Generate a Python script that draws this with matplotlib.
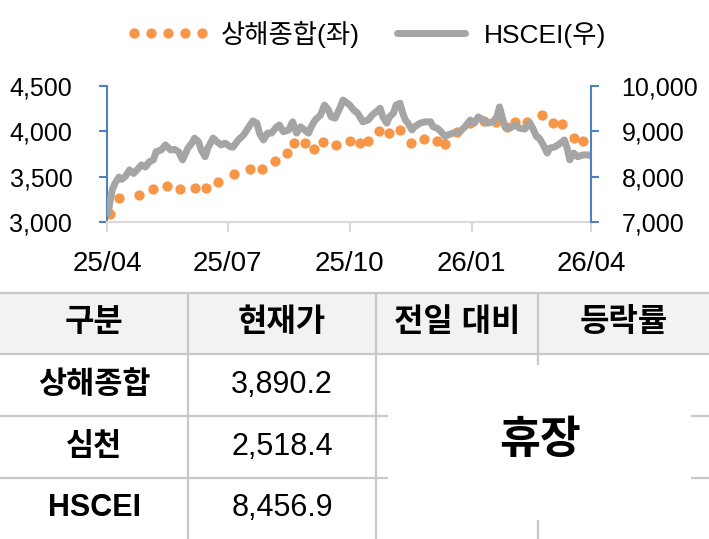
import numpy as np
import pandas as pd
import matplotlib
matplotlib.use('Agg')
import matplotlib.pyplot as plt
from matplotlib.patches import Rectangle
from matplotlib.ticker import FuncFormatter

plt.rcParams['font.family'] = ['Liberation Sans', 'Noto Sans CJK KR']

start = pd.Timestamp('2025-04-01')

# 상해종합 (left axis), days since 2025-04-01
sh_days = [2, 9, 24, 35, 45, 55, 66, 75, 84, 96, 108, 117, 127, 136, 141, 149, 156,
           163, 173, 183, 191, 197, 205, 213, 221, 229, 239, 249, 255, 264, 274,
           284, 293, 302, 308, 317, 328, 336, 343, 352, 359]
sh_vals = [3090, 3270, 3300, 3360, 3400, 3360, 3380, 3380, 3445, 3525, 3580, 3580,
           3675, 3765, 3870, 3870, 3800, 3885, 3850, 3895, 3875, 3890, 4005, 3980,
           4020, 3875, 3915, 3895, 3860, 3995, 4090, 4110, 4100, 4045, 4105, 4105,
           4180, 4095, 4080, 3925, 3890]

# HSCEI (right axis)
hs_days = [1, 2, 4, 6, 9, 11, 14, 17, 20, 23, 26, 29, 32, 35, 37, 41, 44, 48, 51, 54,
           57, 61, 64, 66, 69, 71, 74, 76, 80, 83, 86, 89, 93, 95, 99, 103, 107, 110,
           113, 115, 118, 121, 124, 128, 130, 133, 137, 140, 143, 146, 149, 152, 154,
           157, 161, 164, 167, 169, 172, 176, 178, 183, 186, 189, 193, 197, 200, 203,
           206, 208, 211, 213, 216, 218, 221, 223, 225, 227, 230, 232, 236, 240, 244,
           246, 249, 252, 255, 257, 261, 266, 270, 274, 277, 280, 284, 287, 291, 294,
           296, 298, 300, 304, 308, 311, 315, 319, 321, 324, 326, 329, 332, 334, 338,
           342, 345, 347, 349, 352, 355, 359, 363, 365]
hs_vals = [7190, 7410, 7710, 7850, 7990, 7940, 8010, 8150, 8070, 8160,
           8260, 8210, 8330, 8370, 8550, 8590, 8700, 8590, 8600, 8550,
           8370, 8630, 8740, 8850, 8770, 8590, 8440, 8630, 8850, 8770,
           8700, 8740, 8660, 8650, 8810, 8920, 9100, 9230, 9180, 8960,
           8810, 8960, 8960, 9100, 9140, 8990, 9030, 9210, 8960, 9100,
           9030, 8960, 9100, 9250, 9360, 9580, 9470, 9320, 9290, 9540,
           9690, 9580, 9470, 9400, 9210, 9250, 9360, 9430, 9510, 9320,
           9180, 9320, 9400, 9580, 9620, 9400, 9250, 9180, 9030, 9100,
           9180, 9210, 9210, 9100, 9070, 8990, 8880, 8920, 8960, 8990,
           9100, 9250, 9180, 9320, 9250, 9180, 9210, 9320, 9540, 9320,
           9100, 9070, 9140, 9070, 9050, 9180, 9070, 8880, 8850, 8700,
           8520, 8630, 8660, 8740, 8810, 8630, 8370, 8520, 8440, 8480,
           8480, 8457]

tick_dates = ['2025-04-01', '2025-07-01', '2025-10-01', '2026-01-01', '2026-04-01']
tick_labels = ['25/04', '25/07', '25/10', '26/01', '26/04']

headers = ['구분', '현재가', '전일 대비', '등락률']
names = ['상해종합', '심천', 'HSCEI']
prices = [3890.2, 2518.4, 8456.9]

ORANGE = '#F79646'
GRAY = '#A5A5A5'
BLUE = '#4F81BD'

W, H = 709, 539
fig = plt.figure(figsize=(W / 100, H / 100), dpi=100)

# ---- table (pixel coordinates) ----
tax = fig.add_axes([0, 0, 1, 1])
tax.set_xlim(0, W)
tax.set_ylim(H, 0)
tax.axis('off')

col_x = [0, 188, 376, 538, W]
row_y = [293, 354, 416, 478, H]
line_c = '#C8C8C8'
tax.add_patch(Rectangle((0, row_y[0]), W, row_y[1] - row_y[0], color='#F2F2F2', lw=0))
for y in row_y[:-1]:
    tax.plot([0, W], [y, y], color=line_c, lw=1.6, solid_capstyle='butt')
for x in col_x[1:-1]:
    tax.plot([x, x], [row_y[0], H], color=line_c, lw=1.6, solid_capstyle='butt')

for i, h in enumerate(headers):
    cx = (col_x[i] + col_x[i + 1]) / 2
    tax.text(cx, (row_y[0] + row_y[1]) / 2, h, ha='center', va='center',
             fontsize=23, fontweight='bold')
for r, (n, p) in enumerate(zip(names, prices)):
    cy = (row_y[r + 1] + row_y[r + 2]) / 2
    tax.text((col_x[0] + col_x[1]) / 2, cy, n, ha='center', va='center',
             fontsize=22, fontweight='bold')
    tax.text((col_x[1] + col_x[2]) / 2, cy, f'{p:,.1f}', ha='center', va='center',
             fontsize=22)

tax.add_patch(Rectangle((388, 365), 303, 155, color='white', lw=0, zorder=3))
tax.text(540, 441, '휴장', ha='center', va='center', fontsize=32,
         fontweight='bold', zorder=4)

# ---- chart ----
ax = fig.add_axes([107 / W, 1 - 222 / H, 484 / W, 136 / H])
ax.patch.set_alpha(0)
ax2 = ax.twinx()

sh_x = start + pd.to_timedelta(sh_days, unit='D')
hs_x = start + pd.to_timedelta(hs_days, unit='D')

l1, = ax.plot(sh_x, sh_vals, linestyle='none', marker='o', ms=7.4, color=ORANGE,
              mec='none', label='상해종합(좌)')
l2, = ax2.plot(hs_x, hs_vals, color=GRAY, lw=5, solid_joinstyle='round',
               solid_capstyle='round', label='HSCEI(우)')

ax.set_xlim(pd.Timestamp(tick_dates[0]), pd.Timestamp(tick_dates[-1]))
ax.set_ylim(3000, 4500)
ax2.set_ylim(7000, 10000)
ax.set_yticks(np.arange(3000, 4501, 500))
ax2.set_yticks(np.arange(7000, 10001, 1000))
fmt = FuncFormatter(lambda v, p: f'{v:,.0f}')
ax.yaxis.set_major_formatter(fmt)
ax2.yaxis.set_major_formatter(fmt)
ax.set_xticks(pd.to_datetime(tick_dates))
ax.set_xticklabels(tick_labels)

for a in (ax, ax2):
    a.spines['top'].set_visible(False)
ax.spines['right'].set_visible(False)
ax2.spines['left'].set_visible(False)
ax2.spines['bottom'].set_visible(False)
ax.spines['left'].set_color(BLUE)
ax.spines['left'].set_linewidth(1.5)
ax2.spines['right'].set_color(BLUE)
ax2.spines['right'].set_linewidth(1.5)
ax.spines['bottom'].set_color('#D9D9D9')
ax.spines['bottom'].set_linewidth(1.5)

ax.tick_params(axis='y', direction='out', length=6, width=1.5, color=BLUE,
               labelsize=18, pad=19)
ax2.tick_params(axis='y', direction='out', length=6, width=1.5, color=BLUE,
                labelsize=18, pad=16)
ax.tick_params(axis='x', direction='out', length=7, width=1.5, color='#D9D9D9',
               labelsize=20, pad=14)

fig.legend([l1, l2], [l1.get_label(), l2.get_label()], loc='center',
           bbox_to_anchor=(366 / W, 1 - 34 / H), ncol=2, frameon=False,
           numpoints=5, handlelength=3.2, handletextpad=0.4, columnspacing=1.1,
           fontsize=19)

fig.savefig('out.png', dpi=100)
